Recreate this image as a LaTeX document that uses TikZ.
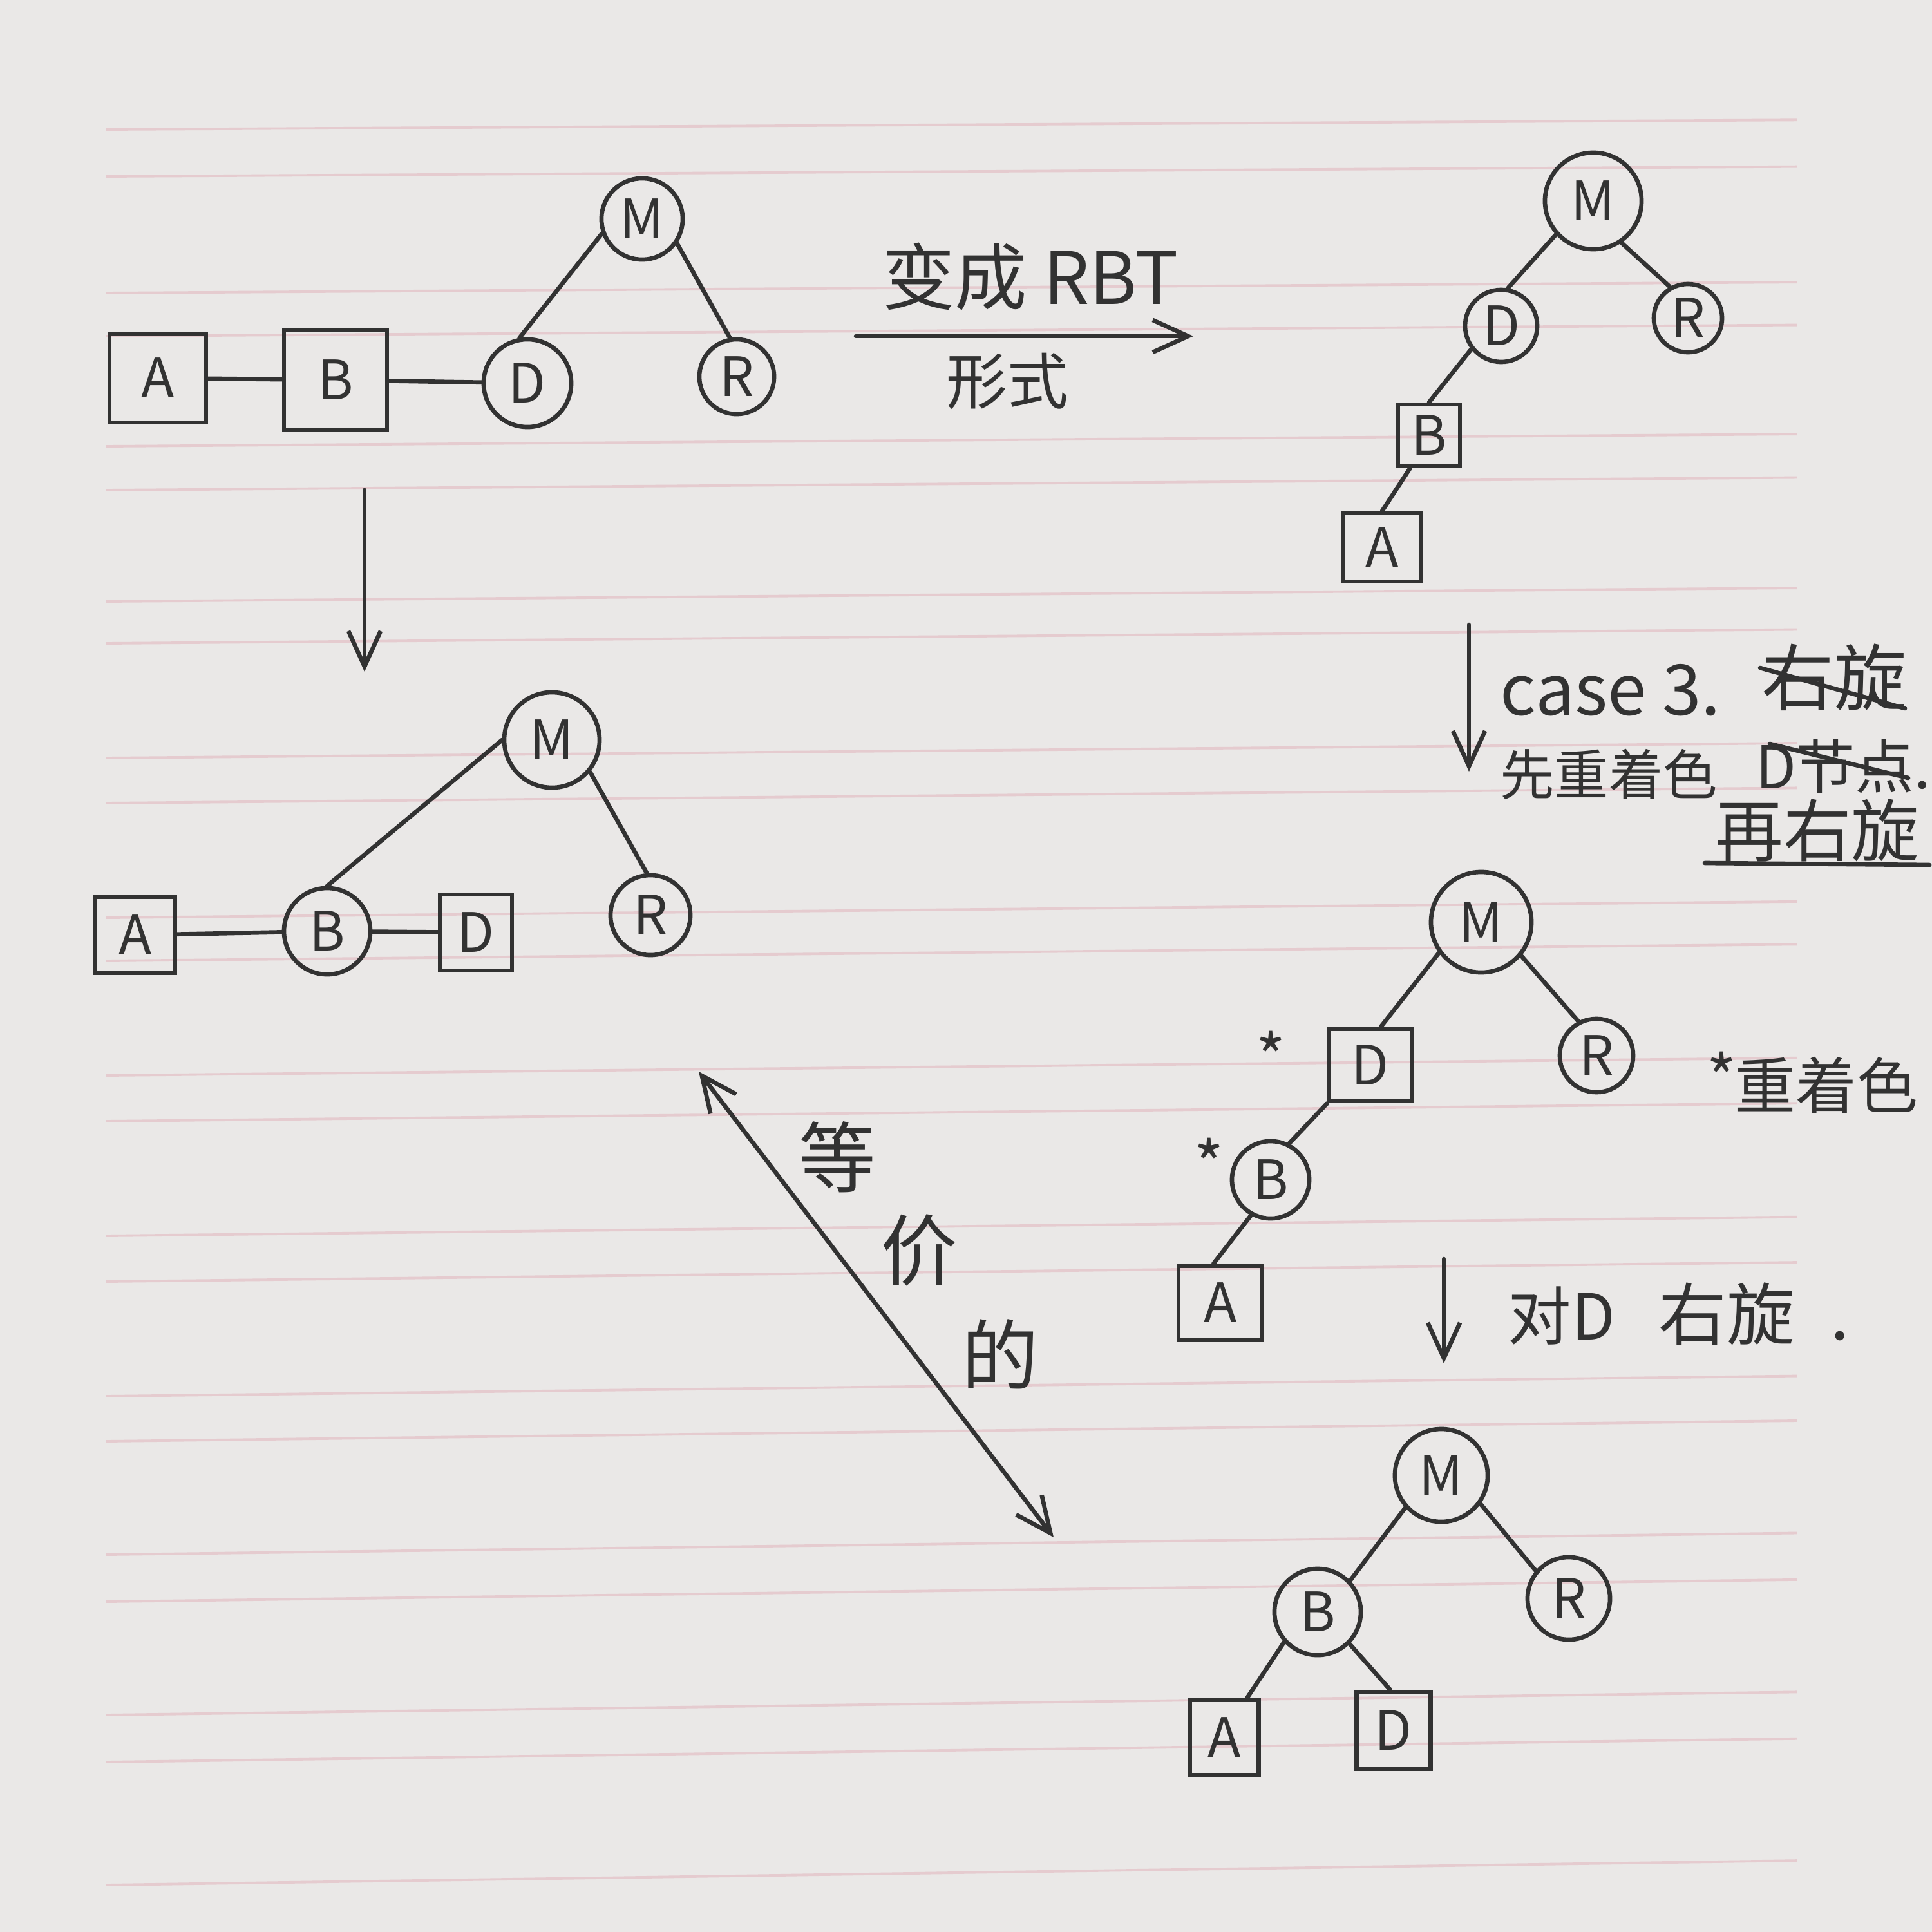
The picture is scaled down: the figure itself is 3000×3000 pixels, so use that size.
\documentclass[tikz,border=0pt]{standalone}
\usepackage{fontspec}
\setmainfont{Noto Sans CJK SC}
\usetikzlibrary{arrows.meta}
\definecolor{paper}{RGB}{234,232,231}
\definecolor{ink}{RGB}{50,50,50}
\definecolor{rulepink}{RGB}{229,203,207}
\begin{document}
\begin{tikzpicture}[x=0.01cm,y=-0.01cm,
  inkline/.style={draw=ink,line width=1.9pt,line cap=round},
  arr/.style={inkline,-{Straight Barb[length=5.5mm,width=5mm]}},
  darr/.style={inkline,{Straight Barb[length=5.5mm,width=5mm]}-{Straight Barb[length=5.5mm,width=5mm]}},
  cnode/.style={circle,draw=ink,line width=1.9pt,inner sep=0pt,text=ink,font=\fontsize{24}{28}\selectfont},
  bnode/.style={rectangle,draw=ink,line width=1.9pt,inner sep=0pt,text=ink,font=\fontsize{24}{28}\selectfont},
  txt/.style={text=ink,inner sep=0pt},
]
\fill[paper] (0,0) rectangle (3000,3000);
\useasboundingbox (0,0) rectangle (3000,3000);
% ruled paper lines
\foreach \y in {201,274,455,522,693,761,934,999,1177,1247,1425,1492,1670,1741,1919,1990,2168,2238,2414,2487,2663,2736,2927}
  \draw[rulepink,line width=1.1pt] (165,\y) -- (2790,{\y-13-0.0085*\y});

% ---------- tree 1 (top left)
\node[bnode,minimum width=1.5cm,minimum height=1.38cm] (t1A) at (245,587) {A};
\node[bnode,minimum width=1.6cm,minimum height=1.55cm] (t1B) at (521,590) {B};
\node[cnode,minimum size=1.36cm] (t1D) at (819,595) {D};
\node[cnode,minimum size=1.26cm] (t1M) at (997,340) {M};
\node[cnode,minimum size=1.16cm] (t1R) at (1144,585) {R};
\draw[inkline] (t1A) -- (t1B);
\draw[inkline] (t1B) -- (t1D);
\draw[inkline] (t1M.200) -- (t1D.100);
\draw[inkline] (t1M.-35) -- (t1R.100);

% arrow to RBT
\coordinate (a1s) at (1329,522);
\coordinate (a1e) at (1853,522);
\draw[arr] (a1s) -- (a1e);
\node[txt,font=\fontsize{32}{36}\selectfont] (lbl1) at (1600,430) {变成 RBT};
\node[txt,font=\fontsize{27}{30}\selectfont] (lbl2) at (1564,592) {形式};

% arrow down left
\coordinate (a2s) at (566,761);
\coordinate (a2e) at (566,1043);
\draw[arr] (a2s) -- (a2e);

% ---------- tree 2 (middle left)
\node[cnode,minimum size=1.48cm] (t2M) at (857,1149) {M};
\node[bnode,minimum width=1.24cm,minimum height=1.18cm] (t2A) at (210,1452) {A};
\node[cnode,minimum size=1.34cm] (t2B) at (508,1446) {B};
\node[bnode,minimum width=1.12cm,minimum height=1.18cm] (t2D) at (739,1448) {D};
\node[cnode,minimum size=1.24cm] (t2R) at (1010,1421) {R};
\draw[inkline] (t2A) -- (t2B);
\draw[inkline] (t2B) -- (t2D);
\draw[inkline] (t2M.180) -- (t2B.90);
\draw[inkline] (t2M.-40) -- (t2R.95);

% ---------- tree 3 (top right)
\node[cnode,minimum size=1.5cm] (t3M) at (2474,312) {M};
\node[cnode,minimum size=1.12cm] (t3D) at (2331,506) {D};
\node[cnode,minimum size=1.06cm] (t3R) at (2621,494) {R};
\node[bnode,minimum width=0.96cm,minimum height=0.96cm] (t3B) at (2219,676) {B};
\node[bnode,minimum width=1.2cm,minimum height=1.06cm] (t3A) at (2146,850) {A};
\draw[inkline] (t3M.222) -- (t3D.80);
\draw[inkline] (t3M.-56) -- (t3R.120);
\draw[inkline] (t3D.218) -- (t3B.north);
\draw[inkline] (t3B.240) -- (t3A.north);

% arrow case 3
\coordinate (a3s) at (2281,970);
\coordinate (a3e) at (2281,1198);
\draw[arr] (a3s) -- (a3e);
\node[txt,anchor=west,font=\fontsize{31}{36}\selectfont] (lbl3) at (2329,1072) {case 3.};
\node[txt,font=\fontsize{32}{36}\selectfont] (lbl4) at (2848,1052) {右旋};
\draw[inkline] (2733,1037) -- (2958,1100);
\node[txt,font=\fontsize{24}{27}\selectfont] (lbl5) at (2498,1202) {先重着色};
\node[txt,font=\fontsize{26}{30}\selectfont] (lbl6) at (2862,1190) {D节点.};
\draw[inkline] (2748,1155) -- (2963,1208);
\node[txt,font=\fontsize{30}{34}\selectfont] (lbl7) at (2822,1289) {再右旋};
\draw[inkline] (2647,1340) -- (2996,1343);

% ---------- tree 4 (middle right)
\node[cnode,minimum size=1.56cm] (t4M) at (2300,1432) {M};
\node[bnode,minimum width=1.28cm,minimum height=1.12cm] (t4D) at (2128,1654) {D};
\node[cnode,minimum size=1.14cm] (t4R) at (2479,1639) {R};
\node[cnode,minimum size=1.2cm] (t4B) at (1973,1832) {B};
\node[bnode,minimum width=1.3cm,minimum height=1.15cm] (t4A) at (1895,2023) {A};
\draw[inkline] (t4M.216) -- (t4D.75);
\draw[inkline] (t4M.-40) -- (t4R.118);
\draw[inkline] (t4D.south west) -- (t4B.63);
\draw[inkline] (t4B.241) -- (t4A.100);
\node[txt,font=\fontsize{28}{30}\selectfont] (st1) at (1973,1640) {*};
\node[txt,font=\fontsize{28}{30}\selectfont] (st2) at (1877,1806) {*};
\node[txt,font=\fontsize{28}{30}\selectfont] (st3) at (2673,1672) {*};
\node[txt,font=\fontsize{27}{30}\selectfont] (lbl8) at (2836,1685) {重着色};

% arrow rotate D
\coordinate (a4s) at (2242,1955);
\coordinate (a4e) at (2242,2117);
\draw[arr] (a4s) -- (a4e);
\node[txt,anchor=base west,font=\fontsize{28}{30}\selectfont] (lbl9) at (2341,2080) {对D};
\node[txt,anchor=base west,font=\fontsize{30}{32}\selectfont] (lbl10) at (2575,2080) {右旋\hspace{16pt}.};

% ---------- tree 5 (bottom right)
\node[cnode,minimum size=1.44cm] (t5M) at (2238,2291) {M};
\node[cnode,minimum size=1.34cm] (t5B) at (2046,2503) {B};
\node[cnode,minimum size=1.28cm] (t5R) at (2436,2482) {R};
\node[bnode,minimum width=1.07cm,minimum height=1.16cm] (t5A) at (1901,2698) {A};
\node[bnode,minimum width=1.15cm,minimum height=1.2cm] (t5D) at (2164,2687) {D};
\draw[inkline] (t5M.222) -- (t5B.44);
\draw[inkline] (t5M.-36) -- (t5R.140);
\draw[inkline] (t5B.222) -- (t5A.60);
\draw[inkline] (t5B.-45) -- (t5D.95);

% equivalence arrow
\coordinate (a5s) at (1085,1664);
\coordinate (a5e) at (1636,2387);
\draw[darr] (a5s) -- (a5e);
\node[txt,font=\fontsize{34}{38}\selectfont] (eq1) at (1300,1797) {等};
\node[txt,font=\fontsize{34}{38}\selectfont] (eq2) at (1427,1941) {价};
\node[txt,font=\fontsize{34}{38}\selectfont] (eq3) at (1553,2103) {的};
\end{tikzpicture}
\end{document}
